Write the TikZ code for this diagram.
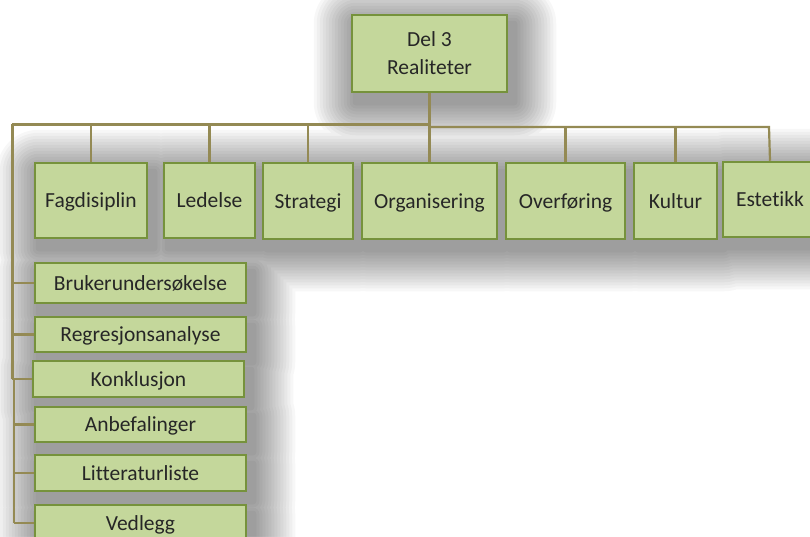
\documentclass[tikz,border=0pt]{standalone}
\usepackage{fontspec}
\setmainfont[Ligatures=NoCommon]{Carlito}
\usetikzlibrary{backgrounds}
\definecolor{boxfill}{HTML}{C4D79B}
\definecolor{boxline}{HTML}{76923C}
\definecolor{linkline}{HTML}{948A54}
\definecolor{labeltext}{HTML}{262626}
\pgfdeclarelayer{shade}
\pgfdeclarelayer{links}
\pgfsetlayers{background,shade,links,main}
\tikzset{
  box/.style={draw=boxline, fill=boxfill, line width=2.5pt, inner sep=0pt,
    text=labeltext, align=center, font=\fontsize{21.5}{28}\selectfont},
  item/.style={box, text height=19pt, text depth=4.6pt},
  link/.style={draw=linkline, line width=2.2pt},
  trunk/.style={draw=linkline, line width=3pt},
  softshade/.style={fill=black, fill opacity=0.03},
}
\begin{document}
\begin{tikzpicture}[x=1pt, y=-1pt]
\useasboundingbox (0,0) rectangle (810,536);
\clip (0,0) rectangle (810,536);

% root
\node[box, minimum width=155pt, minimum height=77pt] (top) at (429.5,53.5) {Del 3\\Realiteter};

% first level, row
\node[item, minimum width=112pt, minimum height=75pt] (fag) at (91,200.5) {Fagdisiplin};
\node[item, minimum width=91pt,  minimum height=75pt] (led) at (209.5,200.5) {Ledelse};
\node[item, minimum width=90pt,  minimum height=76pt] (str) at (308,201) {Strategi};
\node[item, minimum width=135pt, minimum height=76pt] (org) at (429.5,201) {Organisering};
\node[item, minimum width=119pt, minimum height=76pt] (ovr) at (565.5,201) {Overføring};
\node[item, minimum width=83pt,  minimum height=76pt] (kul) at (675.5,201) {Kultur};
\node[item, minimum width=94pt,  minimum height=75pt] (est) at (770,199.5) {Estetikk};

% first level, column
\node[item, minimum width=211pt, minimum height=40pt] (bru) at (140.5,283) {Brukerundersøkelse};
\node[item, minimum width=211pt, minimum height=35pt] (reg) at (140.5,334.5) {Regresjonsanalyse};
\node[item, minimum width=211pt, minimum height=36pt] (kon) at (138.5,379) {Konklusjon};
\node[item, minimum width=211pt, minimum height=35pt] (anb) at (140.5,424.5) {Anbefalinger};
\node[item, minimum width=211pt, minimum height=36pt] (lit) at (140.5,473) {Litteraturliste};
\node[item, minimum width=211pt, minimum height=36pt] (ved) at (140.5,523) {Vedlegg};

\begin{pgfonlayer}{background}
  \fill[white] (0,0) rectangle (810,536);
\end{pgfonlayer}

% soft shadows: each ring is one path over all boxes, so overlaps do not darken twice
\begin{pgfonlayer}{shade}
  \foreach \r in {3,6,...,42}{
    \fill[softshade, rounded corners=\r pt]
      \foreach \n in {top,fag,led,str,org,ovr,kul,est,bru,reg,kon,anb,lit,ved}{
        ([shift={(5-\r,10-\r)}]\n.north west) rectangle ([shift={(6+\r,9+\r)}]\n.south east)
      };
  }
\end{pgfonlayer}

% connectors
\coordinate (tl) at (12,124);
\coordinate (tr) at (769,127);
\coordinate (vt) at (14,378);
\begin{pgfonlayer}{links}
  \draw[trunk] (tl) -- (top.south |- tl);
  \draw[link] (top.south) -- (org.north);
  \draw[link] (top.south |- tr) -- (tr) -- (est.north);
  \draw[link] (fag.north |- tl) -- (fag.north);
  \draw[link] (led.north |- tl) -- (led.north);
  \draw[link] (str.north |- tl) -- (str.north);
  \draw[link] (ovr.north |- tr) -- (ovr.north);
  \draw[link] (kul.north |- tr) -- (kul.north);
  \draw[trunk] (tl) -- (tl |- kon.west);
  \draw[link] (vt) -- (vt |- ved.west);
  \draw[link] (tl |- bru.west) -- (bru.west);
  \draw[link] (tl |- reg.west) -- (reg.west);
  \draw[link] (tl |- kon.west) -- (kon.west);
  \draw[link] (vt |- anb.west) -- (anb.west);
  \draw[link] (vt |- lit.west) -- (lit.west);
  \draw[link] (vt |- ved.west) -- (ved.west);
\end{pgfonlayer}
\end{tikzpicture}
\end{document}
